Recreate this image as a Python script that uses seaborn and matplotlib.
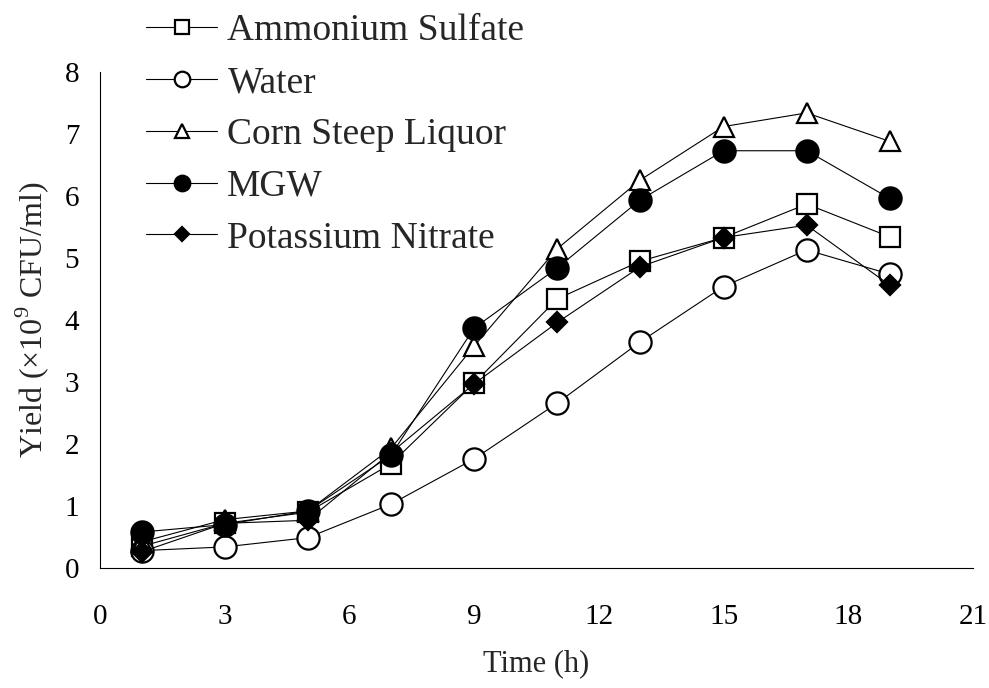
import numpy as np
import pandas as pd
import matplotlib
matplotlib.use("Agg")
import matplotlib.pyplot as plt
import seaborn as sns

time_h = [1, 3, 5, 7, 9, 11, 13, 15, 17, 19]
ammonium_sulfate = [0.35, 0.72, 0.90, 1.68, 2.98, 4.34, 4.95, 5.33, 5.87, 5.34]
water = [0.28, 0.34, 0.49, 1.03, 1.76, 2.66, 3.65, 4.54, 5.13, 4.74]
corn_steep_liquor = [0.42, 0.78, 0.92, 1.93, 3.58, 5.15, 6.26, 7.12, 7.34, 6.88]
mgw = [0.58, 0.70, 0.92, 1.82, 3.87, 4.84, 5.94, 6.73, 6.73, 5.96]
potassium_nitrate = [0.26, 0.72, 0.77, 1.86, 2.97, 3.96, 4.86, 5.33, 5.53, 4.56]

series = [
    ("Ammonium Sulfate", ammonium_sulfate, "s", "white", 15),
    ("Water", water, "o", "white", 16),
    ("Corn Steep Liquor", corn_steep_liquor, "^", "white", 15),
    ("MGW", mgw, "o", "black", 16),
    ("Potassium Nitrate", potassium_nitrate, "D", "black", 10.5),
]

sns.set_style("white")
plt.rcParams["font.family"] = ["Liberation Serif", "DejaVu Serif"]
plt.rcParams["mathtext.fontset"] = "custom"
plt.rcParams["mathtext.rm"] = "Liberation Serif"

fig = plt.figure(figsize=(9.89, 6.88), dpi=100)
ax = fig.add_axes([100 / 989, 1 - 568 / 688, 873 / 989, 496 / 688])

for name, vals, mk, fc, ms in series:
    df = pd.DataFrame({"time": time_h, "yield": vals})
    sns.lineplot(data=df, x="time", y="yield", ax=ax, color="black",
                 linewidth=0.8, marker=mk, markerfacecolor=fc,
                 markeredgecolor="black", markeredgewidth=1.6,
                 markersize=ms, label=name, clip_on=False)

ax.set_xlim(0, 21)
ax.set_ylim(0, 8)
ax.set_xticks(np.arange(0, 22, 3))
ax.set_yticks(np.arange(0, 9, 1))
ax.tick_params(direction="in", length=7, width=0.8, labelsize=21,
               color="black", labelcolor="black")
ax.tick_params(axis="x", pad=26)
ax.tick_params(axis="y", pad=15)
sns.despine(ax=ax)
for sp in ("left", "bottom"):
    ax.spines[sp].set_color("black")
    ax.spines[sp].set_linewidth(0.8)

ax.set_xlabel("Time (h)", fontsize=22, labelpad=14)
ax.set_ylabel(r"Yield (×10$^{9}$ CFU/ml)", fontsize=23, labelpad=10)

ax.legend(loc="upper left", bbox_to_anchor=(146 / 989, 1 - 14 / 688),
          bbox_transform=fig.transFigure, frameon=False, fontsize=27,
          markerscale=0.7, handlelength=1.9, handletextpad=0.27,
          labelspacing=0.46, borderpad=0, borderaxespad=0)

fig.savefig("out.png", dpi=100)
